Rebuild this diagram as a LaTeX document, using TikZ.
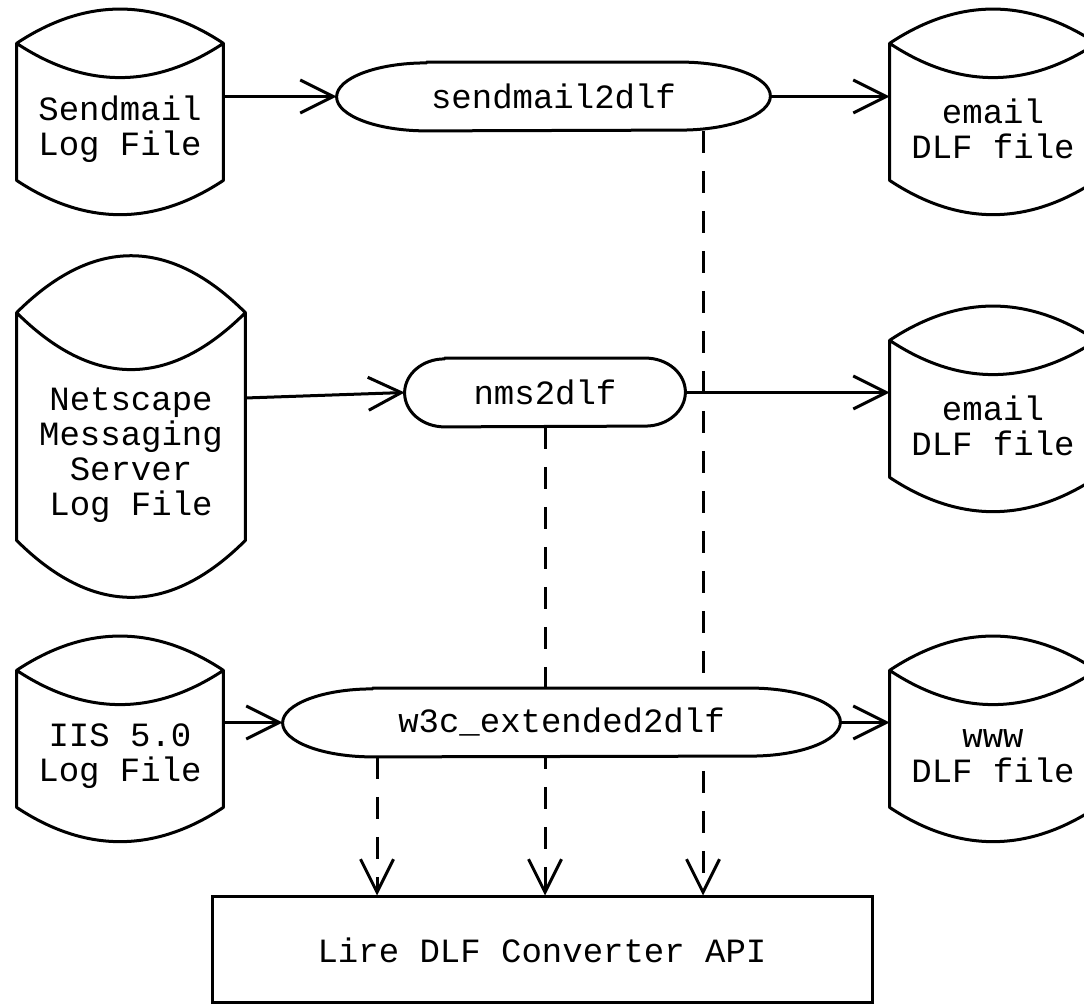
\documentclass[tikz,border=0pt]{standalone}
\usepackage{fontspec}
\setmonofont{Liberation Mono}
\usepackage{tikz}
\usetikzlibrary{arrows.meta, positioning, calc, backgrounds}

\tikzset{
  outline/.style={line width=1.5pt, line join=round},
  logfile/.style={align=center, inner sep=0pt, minimum width=103pt, minimum height=51pt},
  conv/.style={fill=white, inner sep=0pt, minimum height=34pt},
  flow/.style={line width=1.5pt, -{Straight Barb[length=16.5pt, width=16.5pt]}},
  uses/.style={flow, dash pattern=on 11pt off 9pt},
}

% file symbol: lens on top, curved bottom
\newcommand\fileshape[1]{%
  \path ($(#1.north west)!-1/3!(#1.south west)$) coordinate (tl)
        ($(#1.north east)!-1/3!(#1.south east)$) coordinate (tr)
        ($(#1.north)!-1!(#1.south)$) coordinate (up)
        ($(#1.north)!1/3!(#1.south)$) coordinate (dn)
        ($(#1.south)!-2/3!(#1.north)$) coordinate (bt);
  \draw[outline] (tl) .. controls ($(tl)!2/3!(up)$) and ($(tr)!2/3!(up)$) .. (tr)
      .. controls ($(tr)!2/3!(dn)$) and ($(tl)!2/3!(dn)$) .. (tl)
      -- (#1.south west)
      .. controls ($(#1.south west)!2/3!(bt)$) and ($(#1.south east)!2/3!(bt)$) .. (#1.south east)
      -- (tr);}
% converter: flat top and bottom, elliptic ends
\newcommand\convshape[2]{%
  \draw[outline] ([xshift=#2]#1.north west) -- ([xshift=-#2]#1.north east)
      arc[start angle=90, end angle=-90, x radius=#2, y radius=17pt]
      -- ([xshift=#2]#1.south west)
      arc[start angle=270, end angle=90, x radius=#2, y radius=17pt] -- cycle;}

\begin{document}
\begin{tikzpicture}[x=0.5pt, y=-0.5pt, font=\ttfamily\fontsize{17pt}{17.5pt}\selectfont]
  \useasboundingbox (0,0) rectangle (1084,1005);

  \node[logfile] (sendlog) at (120,129) {Sendmail\\Log File};
  \node[logfile, minimum width=114pt, minimum height=85pt] (netlog) at (131,455)
    {Netscape\\Messaging\\Server\\Log File};
  \node[logfile] (iislog) at (120,756) {IIS 5.0\\Log File};
  \node[logfile] (maila) at (993,129) {email\\DLF file};
  \node[logfile] (mailb) at (993,426) {email\\DLF file};
  \node[logfile] (wwwdlf) at (993,756) {www\\DLF file};

  \node[conv, minimum width=216.5pt] (send) at (553.5,96.5) {sendmail2dlf};
  \node[conv, minimum width=140pt] (nms) at (545,392.5) {nms2dlf};
  \node[conv, minimum width=278.5pt] (w3c) at (561.5,722.5) {w3c\_extended2dlf};
  \node[draw, line width=1.5pt, minimum width=330pt, minimum height=53pt] (api) at (542,950)
    {Lire DLF Converter API};

  \coordinate (sendtap) at ($(send.south)+(149.5,0)$);
  \coordinate (w3ctap) at ($(w3c.south)+(-184.5,0)$);
  \begin{scope}[on background layer]
    \draw[uses] (sendtap) -- (sendtap |- api.north);
    \draw[uses] (nms.south) -- (nms.south |- api.north);
    \draw[uses] (w3ctap) -- (w3ctap |- api.north);
  \end{scope}

  \draw[flow] (send.west -| sendlog.east) -- (send.west);
  \draw[flow] (send.east) -- (send.east -| maila.west);
  \draw[flow] ([yshift=28.5pt]netlog.east) -- (nms.west);
  \draw[flow] (nms.east) -- (nms.east -| mailb.west);
  \draw[flow] (w3c.west -| iislog.east) -- (w3c.west);
  \draw[flow] (w3c.east) -- (w3c.east -| wwwdlf.west);

  \foreach \f in {sendlog, netlog, iislog, maila, mailb, wwwdlf} \fileshape{\f};
  \foreach \f/\r in {send/45pt, nms/20pt, w3c/45pt} \convshape{\f}{\r};
\end{tikzpicture}
\end{document}
